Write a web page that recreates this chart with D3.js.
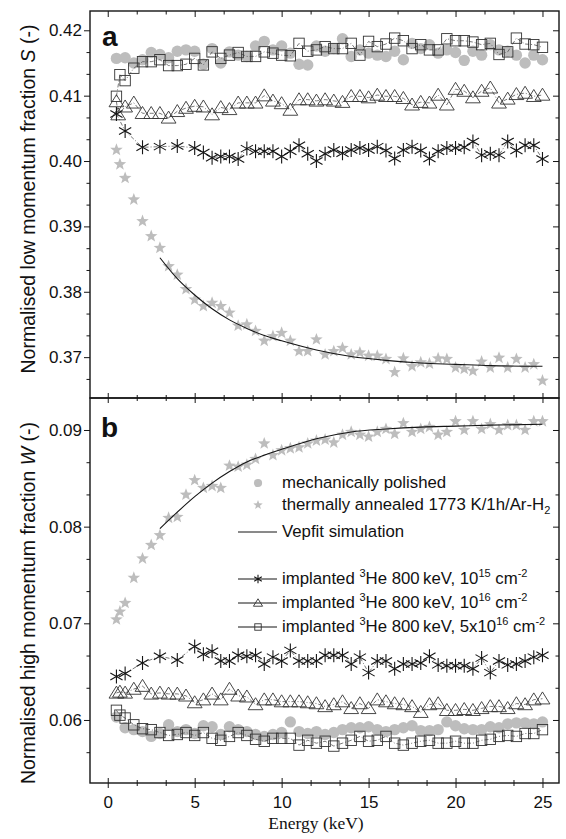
<!DOCTYPE html>
<html>
<head>
<meta charset="utf-8">
<script src="https://cdn.jsdelivr.net/npm/d3@7"></script>
<style>
  body { margin: 0; background: #fff; }
  svg { display: block; }
  text { font-family: "Liberation Sans", Arial, sans-serif; fill: #111; }
</style>
</head>
<body>
<svg id="chart" width="566" height="839"></svg>
<script>
// ---- energies (keV) ----
const eHalf = d3.range(1, 25.01, 0.5);              // 1, 1.5 ... 25
const eFine = [0.5, 0.7, ...eHalf];                 // extra low-energy points
const eCoarse = [0.5, 1, 2, 3, 4, 5, ...d3.range(5.5, 25.01, 0.5)];
const ePol = [0.5, ...eHalf];
const eSim = [3, 4, 5, 6, 7, 8, 9, 10, 12, 14, 16, 18, 20, 22, 25];

// ---- panel a: S parameter ----
const sPolished = [0.4157, 0.4158, 0.4150, 0.4155, 0.4166, 0.4163, 0.4158, 0.4168, 0.4170, 0.4168,
  0.4148, 0.4172, 0.4150, 0.4167, 0.4162, 0.4160, 0.4176, 0.4183, 0.4170, 0.4176,
  0.4165, 0.4148, 0.4147, 0.4176, 0.4168, 0.4172, 0.4187, 0.4160, 0.4170, 0.4165,
  0.4162, 0.4160, 0.4168, 0.4155, 0.4180, 0.4172, 0.4178, 0.4165, 0.4170, 0.4166,
  0.4154, 0.4168, 0.4162, 0.4178, 0.4170, 0.4168, 0.4162, 0.4150, 0.4162, 0.4155];
const sAnnealed = [0.4017, 0.3995, 0.3974, 0.3941, 0.3908, 0.3885, 0.3867, 0.3839, 0.3826, 0.3804,
  0.3788, 0.3778, 0.3783, 0.3778, 0.3768, 0.3748, 0.3750, 0.3740, 0.3725, 0.3732,
  0.3737, 0.3725, 0.3709, 0.3709, 0.3727, 0.3704, 0.3709, 0.3714, 0.3704, 0.3707,
  0.3702, 0.3702, 0.3697, 0.3677, 0.3698, 0.3686, 0.3692, 0.3690, 0.3698, 0.3697,
  0.3684, 0.3682, 0.3679, 0.3693, 0.3684, 0.3699, 0.3684, 0.3697, 0.3684, 0.3689, 0.3664];
const sDose15 = [0.4072, 0.4046, 0.4021, 0.4022, 0.4023, 0.4020,
  0.4013, 0.4005, 0.4007, 0.4007, 0.4003, 0.4019, 0.4015, 0.4015, 0.4015, 0.4007,
  0.4015, 0.4024, 0.4011, 0.4000, 0.4011, 0.4017, 0.4012, 0.4017, 0.4020, 0.4017,
  0.4022, 0.4016, 0.4004, 0.4017, 0.4022, 0.4016, 0.4004, 0.4015, 0.4020, 0.4020,
  0.4021, 0.4030, 0.4009, 0.4011, 0.4009, 0.4030, 0.4016, 0.4024, 0.4024, 0.4003];
const sDose16 = [0.4091, 0.4071, 0.4083, 0.4089, 0.4073, 0.4073, 0.4073, 0.4066, 0.4076, 0.4081,
  0.4084, 0.4083, 0.4071, 0.4082, 0.4079, 0.4089, 0.4089, 0.4089, 0.4100, 0.4092,
  0.4088, 0.4078, 0.4094, 0.4094, 0.4092, 0.4094, 0.4092, 0.4090, 0.4099, 0.4099,
  0.4097, 0.4101, 0.4099, 0.4099, 0.4096, 0.4086, 0.4090, 0.4089, 0.4101, 0.4086,
  0.4110, 0.4107, 0.4097, 0.4107, 0.4112, 0.4089, 0.4095, 0.4102, 0.4104, 0.4099, 0.4101];
const sDose5x16 = [0.4099, 0.4132, 0.4123, 0.4142, 0.4152, 0.4152, 0.4155, 0.4146, 0.4146, 0.4148,
  0.4157, 0.4147, 0.4167, 0.4157, 0.4162, 0.4166, 0.4160, 0.4160, 0.4167, 0.4165,
  0.4162, 0.4161, 0.4180, 0.4168, 0.4170, 0.4175, 0.4172, 0.4172, 0.4180, 0.4162,
  0.4183, 0.4175, 0.4179, 0.4188, 0.4184, 0.4172, 0.4178, 0.4170, 0.4170, 0.4187,
  0.4184, 0.4184, 0.4182, 0.4178, 0.4180, 0.4163, 0.4167, 0.4188, 0.4179, 0.4178, 0.4174];
const sVepfit = [0.3852, 0.3820, 0.3795, 0.3774, 0.3757, 0.3744, 0.3733, 0.3725, 0.3711,
  0.3701, 0.3695, 0.3691, 0.3689, 0.3687, 0.3686];

// ---- panel b: W parameter ----
const wPolished = [0.0603, 0.0592, 0.0590, 0.0588, 0.0583, 0.0586, 0.0595, 0.0588, 0.0590, 0.0586,
  0.0594, 0.0593, 0.0585, 0.0593, 0.0590, 0.0588, 0.0585, 0.0583, 0.0585, 0.0587,
  0.0598, 0.0588, 0.0586, 0.0588, 0.0585, 0.0587, 0.0590, 0.0592, 0.0592, 0.0593,
  0.0590, 0.0588, 0.0590, 0.0592, 0.0594, 0.0589, 0.0589, 0.0590, 0.0598, 0.0594,
  0.0591, 0.0590, 0.0590, 0.0593, 0.0592, 0.0596, 0.0597, 0.0597, 0.0596, 0.0598];
const wAnnealed = [0.0704, 0.0712, 0.0721, 0.0747, 0.0767, 0.0781, 0.0791, 0.0809, 0.0810, 0.0833,
  0.0848, 0.0840, 0.0842, 0.0840, 0.0863, 0.0862, 0.0864, 0.0870, 0.0886, 0.0874,
  0.0879, 0.0881, 0.0882, 0.0886, 0.0889, 0.0890, 0.0887, 0.0895, 0.0898, 0.0895,
  0.0893, 0.0898, 0.0901, 0.0896, 0.0907, 0.0898, 0.0901, 0.0903, 0.0895, 0.0898,
  0.0909, 0.0900, 0.0909, 0.0901, 0.0906, 0.0900, 0.0905, 0.0905, 0.0900, 0.0909, 0.0909];
const wDose15 = [0.0645, 0.0648, 0.0659, 0.0666, 0.0662, 0.0676,
  0.0668, 0.0671, 0.0661, 0.0661, 0.0667, 0.0666, 0.0667, 0.0658, 0.0665, 0.0661,
  0.0672, 0.0661, 0.0661, 0.0661, 0.0667, 0.0667, 0.0667, 0.0658, 0.0665, 0.0649,
  0.0661, 0.0661, 0.0653, 0.0658, 0.0658, 0.0659, 0.0666, 0.0657, 0.0656, 0.0656,
  0.0656, 0.0653, 0.0664, 0.0649, 0.0661, 0.0657, 0.0658, 0.0661, 0.0665, 0.0667];
const wDose16 = [0.0628, 0.0629, 0.0628, 0.0632, 0.0635, 0.0627, 0.0628, 0.0627, 0.0627, 0.0625,
  0.0618, 0.0621, 0.0627, 0.0621, 0.0632, 0.0625, 0.0624, 0.0616, 0.0621, 0.0621,
  0.0619, 0.0619, 0.0619, 0.0618, 0.0617, 0.0614, 0.0616, 0.0619, 0.0612, 0.0617,
  0.0612, 0.0621, 0.0619, 0.0617, 0.0616, 0.0614, 0.0608, 0.0616, 0.0617, 0.0610,
  0.0610, 0.0611, 0.0610, 0.0612, 0.0614, 0.0614, 0.0612, 0.0617, 0.0616, 0.0621, 0.0622];
const wDose5x16 = [0.0610, 0.0605, 0.0602, 0.0595, 0.0591, 0.0590, 0.0587, 0.0584, 0.0585, 0.0587,
  0.0584, 0.0587, 0.0581, 0.0579, 0.0583, 0.0587, 0.0584, 0.0580, 0.0578, 0.0581,
  0.0581, 0.0581, 0.0574, 0.0579, 0.0576, 0.0578, 0.0573, 0.0576, 0.0579, 0.0583,
  0.0578, 0.0579, 0.0583, 0.0576, 0.0574, 0.0576, 0.0578, 0.0579, 0.0576, 0.0576,
  0.0578, 0.0576, 0.0576, 0.0579, 0.0580, 0.0583, 0.0584, 0.0583, 0.0586, 0.0586, 0.0590];
const wVepfit = [0.0798, 0.0815, 0.0831, 0.0845, 0.0857, 0.0867, 0.0874, 0.0880, 0.0891,
  0.0898, 0.0901, 0.0903, 0.0904, 0.0905, 0.0906];

// ---- tick labels ----
const xTicks = [0, 5, 10, 15, 20, 25];
const sTicks = [0.37, 0.38, 0.39, 0.40, 0.41, 0.42];
const wTicks = [0.06, 0.07, 0.08, 0.09];

const legendItems = [
  { kind: "circle", parts: [["mechanically polished", 0]] },
  { kind: "star", parts: [["thermally annealed 1773 K/1h/Ar-H", 0], ["2", -1]] },
  { kind: "line", parts: [["Vepfit simulation", 0]] },
  { kind: "asterisk", parts: [["implanted ", 0], ["3", 1], ["He 800\u2009keV, 10", 0], ["15", 1], [" cm", 0], ["-2", 1]] },
  { kind: "triangle", parts: [["implanted  ", 0], ["3", 1], ["He 800\u2009keV, 10", 0], ["16", 1], [" cm", 0], ["-2", 1]] },
  { kind: "square", parts: [["implanted ", 0], ["3", 1], ["He 800\u2009keV, 5x10", 0], ["16", 1], [" cm", 0], ["-2", 1]] }
];

const svg = d3.select("#chart");
const plotLeft = 90, plotRight = 559, plotTop = 11, plotMid = 398, plotBottom = 783;

const x = d3.scaleLinear().domain([-1.02, 25.95]).range([plotLeft, plotRight]);
const yA = d3.scaleLinear().domain([0.36375, 0.42295]).range([plotMid, plotTop]);
const yB = d3.scaleLinear().domain([0.05348, 0.09331]).range([plotBottom, plotMid]);

const grey = "#bdbdbd";
const ink = "#151515";

function starPath(R) {
  const r = R * 0.42;
  let p = "";
  for (let i = 0; i < 10; i++) {
    const a = -Math.PI / 2 + i * Math.PI / 5;
    const rr = i % 2 ? r : R;
    p += (i ? "L" : "M") + (rr * Math.cos(a)).toFixed(2) + "," + (rr * Math.sin(a)).toFixed(2);
  }
  return p + "Z";
}

function drawMarker(g, kind, cx, cy, s) {
  const t = `translate(${cx},${cy}) scale(${s})`;
  if (kind === "circle") {
    g.append("circle").attr("cx", cx).attr("cy", cy).attr("r", 5.7 * s).attr("fill", grey);
  } else if (kind === "star") {
    g.append("path").attr("d", starPath(6.6)).attr("transform", t).attr("fill", grey);
  } else if (kind === "square") {
    g.append("rect").attr("x", -5.2).attr("y", -5.2).attr("width", 10.4).attr("height", 10.4)
      .attr("transform", t).attr("fill", "none").attr("stroke", "#333")
      .attr("stroke-width", 0.9 / s);
  } else if (kind === "triangle") {
    g.append("path").attr("d", "M0,-6.8L7.4,5.2L-7.4,5.2Z").attr("transform", t)
      .attr("fill", "none").attr("stroke", "#333").attr("stroke-width", 0.9 / s);
  } else if (kind === "asterisk") {
    g.append("path").attr("d", "M0,-7V7M-6.1,-3.5L6.1,3.5M-6.1,3.5L6.1,-3.5").attr("transform", t)
      .attr("fill", "none").attr("stroke", ink).attr("stroke-width", 1.1 / s);
  }
}

function drawPanel(y, data) {
  const g = svg.append("g");
  const line = d3.line().x(d => x(d[0])).y(d => y(d[1]));

  data.polished.forEach(d => drawMarker(g, "circle", x(d[0]), y(d[1]), 1));

  [data.d5x16, data.d16, data.d15].forEach(series => {
    g.append("path").datum(series).attr("d", line)
      .attr("fill", "none").attr("stroke", "#555").attr("stroke-width", 0.8)
      .attr("stroke-dasharray", "4 2 1 2");
  });

  data.annealed.forEach(d => drawMarker(g, "star", x(d[0]), y(d[1]), 1));

  g.append("path").datum(data.vepfit)
    .attr("d", line.curve(d3.curveMonotoneX))
    .attr("fill", "none").attr("stroke", ink).attr("stroke-width", 1.1);

  data.d5x16.forEach(d => drawMarker(g, "square", x(d[0]), y(d[1]), 1));
  data.d16.forEach(d => drawMarker(g, "triangle", x(d[0]), y(d[1]), 1));
  data.d15.forEach(d => drawMarker(g, "asterisk", x(d[0]), y(d[1]), 1));
}

drawPanel(yA, {
  polished: d3.zip(ePol, sPolished),
  annealed: d3.zip(eFine, sAnnealed),
  d15: d3.zip(eCoarse, sDose15),
  d16: d3.zip([0.5, 0.6, ...eHalf], sDose16),
  d5x16: d3.zip(eFine, sDose5x16),
  vepfit: d3.zip(eSim, sVepfit)
});

drawPanel(yB, {
  polished: d3.zip(ePol, wPolished),
  annealed: d3.zip(eFine, wAnnealed),
  d15: d3.zip(eCoarse, wDose15),
  d16: d3.zip(eFine, wDose16),
  d5x16: d3.zip(eFine, wDose5x16),
  vepfit: d3.zip(eSim, wVepfit)
});

// ---- axes ----
const xMinor = d3.range(0, 16).map(i => i * 5 / 3).filter(v => Math.abs(v / 5 - Math.round(v / 5)) > 1e-6);
const sMinor = d3.range(110, 127).filter(i => i % 3 !== 0).map(i => i / 300);
const wMinor = d3.range(17, 28).filter(i => i % 3 !== 0).map(i => i / 300);

function styleAxis(sel) {
  sel.select(".domain").remove();
  sel.selectAll(".tick line").attr("stroke", ink).attr("stroke-width", 1);
  sel.selectAll("text").attr("font-size", 17).attr("fill", ink);
}

function addAxis(axis, tx, ty) {
  return svg.append("g").attr("transform", `translate(${tx},${ty})`).call(axis).call(styleAxis);
}

// left axes (outward ticks with labels)
addAxis(d3.axisLeft(yA).tickValues(sTicks).tickSize(6).tickPadding(2).tickFormat(d3.format(".2f")), plotLeft, 0);
addAxis(d3.axisLeft(yA).tickValues(sMinor).tickSize(3.5).tickFormat(""), plotLeft, 0);
addAxis(d3.axisLeft(yB).tickValues(wTicks).tickSize(6).tickPadding(2).tickFormat(d3.format(".2f")), plotLeft, 0);
addAxis(d3.axisLeft(yB).tickValues(wMinor).tickSize(3.5).tickFormat(""), plotLeft, 0);

// right axes (inward ticks)
addAxis(d3.axisRight(yA).tickValues(sTicks).tickSize(-6).tickFormat(""), plotRight, 0);
addAxis(d3.axisRight(yA).tickValues(sMinor).tickSize(-3.5).tickFormat(""), plotRight, 0);
addAxis(d3.axisRight(yB).tickValues(wTicks).tickSize(-6).tickFormat(""), plotRight, 0);
addAxis(d3.axisRight(yB).tickValues(wMinor).tickSize(-3.5).tickFormat(""), plotRight, 0);

// top of panel a, shared middle edge (inward ticks on both panels)
addAxis(d3.axisTop(x).tickValues(xTicks).tickSize(-6).tickFormat(""), 0, plotTop);
addAxis(d3.axisTop(x).tickValues(xMinor).tickSize(-3.5).tickFormat(""), 0, plotTop);
addAxis(d3.axisBottom(x).tickValues(xTicks).tickSize(-5).tickFormat(""), 0, plotMid);
addAxis(d3.axisBottom(x).tickValues(xMinor).tickSize(-3).tickFormat(""), 0, plotMid);
addAxis(d3.axisTop(x).tickValues(xTicks).tickSize(-5).tickFormat(""), 0, plotMid);
addAxis(d3.axisTop(x).tickValues(xMinor).tickSize(-3).tickFormat(""), 0, plotMid);

// bottom axis with labels, crossing ticks
const xb = addAxis(d3.axisBottom(x).tickValues(xTicks).tickSize(5).tickPadding(8).tickFormat(d3.format("d")), 0, plotBottom);
xb.selectAll(".tick line").attr("y1", -5);
const xbm = addAxis(d3.axisBottom(x).tickValues(xMinor).tickSize(3).tickFormat(""), 0, plotBottom);
xbm.selectAll(".tick line").attr("y1", -3);

// frames
[[plotTop, plotMid], [plotMid, plotBottom]].forEach(([y0, y1]) => {
  svg.append("rect").attr("x", plotLeft).attr("y", y0).attr("width", plotRight - plotLeft).attr("height", y1 - y0)
    .attr("fill", "none").attr("stroke", ink).attr("stroke-width", 1.4);
});

// ---- titles ----
function yTitle(cy, main, sym) {
  const t = svg.append("text").attr("transform", `translate(35,${cy}) rotate(-90)`)
    .attr("text-anchor", "middle").attr("font-size", 19.5);
  t.append("tspan").text(main);
  t.append("tspan").attr("font-style", "italic").text(sym);
  t.append("tspan").text(" (-)");
}
yTitle(199, "Normalised low momentum fraction ", "S");
yTitle(603, "Normalised high momentum fraction ", "W");

svg.append("text").attr("x", 316).attr("y", 829).attr("text-anchor", "middle")
  .style("font-family", "'Liberation Serif', 'Times New Roman', serif").attr("font-size", 17.5)
  .text("Energy (keV)");

svg.append("text").attr("x", 102).attr("y", 46).attr("font-size", 28).attr("font-weight", "bold").text("a");
svg.append("text").attr("x", 101).attr("y", 437).attr("font-size", 28).attr("font-weight", "bold").text("b");

// ---- legend ----
const legendRows = [483, 505, 532, 579, 603, 627];
const lg = svg.append("g");
legendItems.forEach((item, i) => {
  const cy = legendRows[i];
  if (item.kind !== "circle" && item.kind !== "star") {
    lg.append("line").attr("x1", 238).attr("x2", 277).attr("y1", cy).attr("y2", cy)
      .attr("stroke", ink).attr("stroke-width", 1);
  }
  if (item.kind === "circle") drawMarker(lg, "circle", 258, cy, 0.72);
  if (item.kind === "star") drawMarker(lg, "star", 258, cy, 0.75);
  if (["asterisk", "triangle", "square"].includes(item.kind)) drawMarker(lg, item.kind, 258, cy, 0.62);

  const t = lg.append("text").attr("x", 282).attr("y", cy + 5).attr("font-size", 16.8);
  let shift = 0;
  item.parts.forEach(([str, pos]) => {
    const target = pos === 1 ? -7 : pos === -1 ? 4 : 0;
    const ts = t.append("tspan").attr("dy", target - shift).text(str);
    if (pos !== 0) ts.attr("font-size", 11);
    shift = target;
  });
});
</script>
</body>
</html>
